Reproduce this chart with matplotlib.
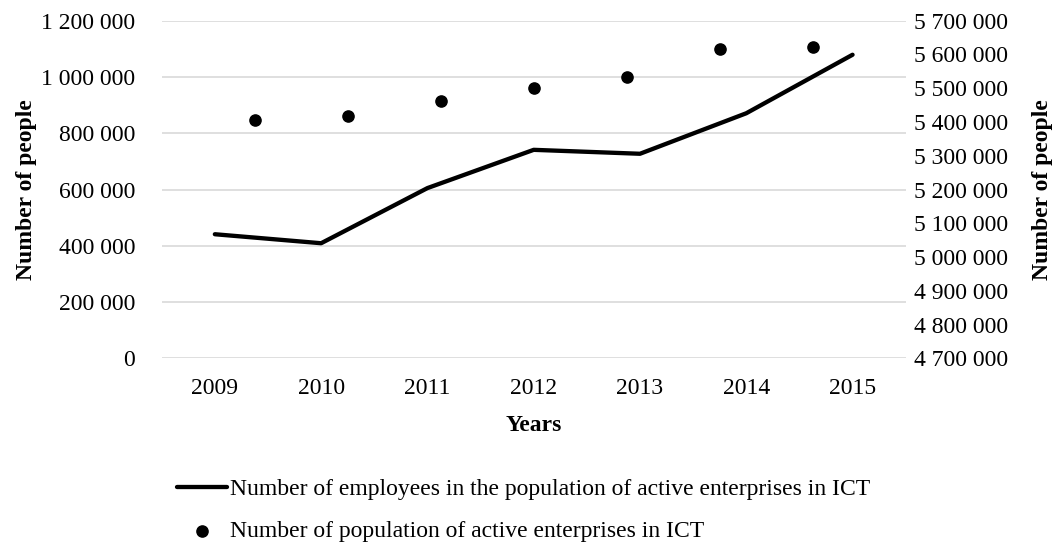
import matplotlib
matplotlib.use('Agg')
import matplotlib.pyplot as plt
from matplotlib.ticker import FuncFormatter, MultipleLocator

plt.rcParams['font.family'] = ['Liberation Serif', 'DejaVu Serif']
plt.rcParams['font.size'] = 17

# dane
lata = ['2009', '2010', '2011', '2012', '2013', '2014', '2015']
pracownicy = [441000, 409000, 605000, 741000, 727000, 871000, 1079000]
przedsiebiorstwa = [5406000, 5418000, 5461000, 5502000, 5533000, 5617000, 5623000]

etykieta_linia = 'Number of employees in the population of active enterprises in ICT'
etykieta_punkty = 'Number of population of active enterprises in ICT'

def fmt(v, pos):
    return f'{v:,.0f}'.replace(',', ' ')

W, H = 1062, 543
fig = plt.figure(figsize=(W/100, H/100), dpi=100)
poz = [161.7/W, (H-358.3)/H, 744/W, 337.6/H]

ax = fig.add_axes(poz)
idx = list(range(len(lata)))
l1, = ax.plot(idx, pracownicy, color='black', lw=3.1, solid_capstyle='round',
              solid_joinstyle='round', label=etykieta_linia, zorder=3)
ax.set_xlim(-0.5, len(lata)-0.5)
ax.set_ylim(0, 1200000)
ax.yaxis.set_major_locator(MultipleLocator(200000))
ax.yaxis.set_major_formatter(FuncFormatter(fmt))
ax.set_xticks(idx)
ax.set_xticklabels(lata)
ax.grid(axis='y', color='#d9d9d9', lw=1.2)
ax.set_axisbelow(True)
for s in ax.spines.values():
    s.set_visible(False)
ax.tick_params(length=0)
ax.tick_params(axis='y', pad=19)
ax.tick_params(axis='x', pad=14)
ax.set_xlabel('Years', fontweight='bold', labelpad=12)
ax.set_ylabel('Number of people', fontweight='bold', labelpad=3)

# druga os (punkty rozlozone 1..7 na skali 0..8)
ax2 = fig.add_axes(poz, frameon=False)
x2 = [i + 1 for i in idx]
p2 = ax2.scatter(x2, przedsiebiorstwa, s=65, color='black', label=etykieta_punkty, zorder=4)
ax2.set_xlim(0, len(lata)+1)
ax2.set_ylim(4700000, 5700000)
ax2.yaxis.set_major_locator(MultipleLocator(100000))
ax2.yaxis.set_major_formatter(FuncFormatter(fmt))
ax2.yaxis.tick_right()
ax2.yaxis.set_label_position('right')
ax2.set_xticks([])
ax2.tick_params(length=0)
ax2.tick_params(axis='y', pad=6)
ax2.set_ylabel('Number of people', fontweight='bold', labelpad=17)

fig.legend(handles=[l1, p2], loc='center left',
           bbox_to_anchor=(176.7/W, 1-510.5/H), frameon=False,
           borderpad=0, borderaxespad=0, handlelength=2.12, handletextpad=0.14,
           labelspacing=0.85)

plt.savefig('out.png', dpi=100)
